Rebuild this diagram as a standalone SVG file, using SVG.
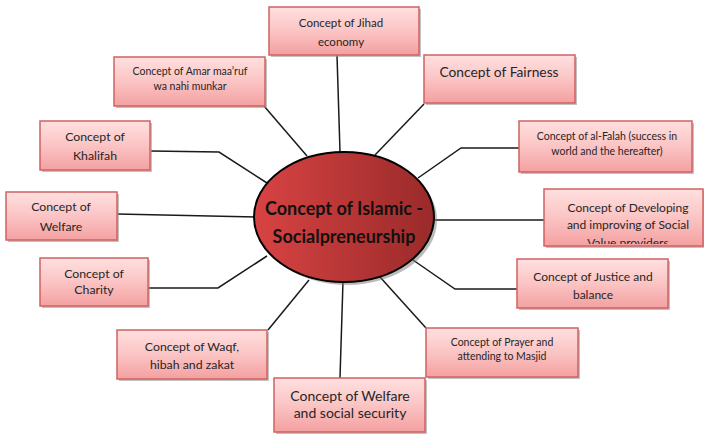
<svg xmlns="http://www.w3.org/2000/svg" width="704" height="435" viewBox="0 0 704 435">
<defs>
<linearGradient id="boxg" x1="0" y1="0" x2="0" y2="1">
<stop offset="0" stop-color="#FFE0E0"/>
<stop offset="0.5" stop-color="#FBC4C4"/>
<stop offset="1" stop-color="#F4A0A0"/>
</linearGradient>
<linearGradient id="ellg" x1="0" y1="0" x2="1" y2="0">
<stop offset="0" stop-color="#D84343"/>
<stop offset="1" stop-color="#9A2A2A"/>
</linearGradient>
<clipPath id="devclip"><rect x="544" y="189" width="160" height="55"/></clipPath>
</defs>
<style>
.box{fill:url(#boxg);stroke:#D06262;stroke-width:1.5}
.sh{fill:#9a9a9a;opacity:0.6}
.t{font-family:Lato,"Open Sans","Liberation Sans",sans-serif;fill:#262626;text-anchor:middle}
.c{fill:none;stroke:#1a1a1a;stroke-width:1.5}
</style>
<rect width="704" height="435" fill="#ffffff"/>
<g id="connectors">
<polyline class="c" points="337,55 340,152"/>
<polyline class="c" points="264,106 307,156"/>
<polyline class="c" points="151,151 219,152 267,183"/>
<polyline class="c" points="117,214 256,217"/>
<polyline class="c" points="148,288 218,288 267,256"/>
<polyline class="c" points="268,330 309,280"/>
<polyline class="c" points="340,378 343,281"/>
<polyline class="c" points="426,328 380,277"/>
<polyline class="c" points="517,289 455,289 413,260"/>
<polyline class="c" points="434,220 544,220"/>
<polyline class="c" points="519,148 461,148 418,178"/>
<polyline class="c" points="424,104 375,155"/>
</g>
<g id="center">
<ellipse cx="347" cy="220" rx="90" ry="65" fill="#777" opacity="0.5"/>
<ellipse cx="344" cy="217" rx="90" ry="65" fill="url(#ellg)" stroke="#000" stroke-width="2"/>
<text class="t" x="344" y="215" font-size="18" font-weight="bold" style="fill:#111">Concept of Islamic -</text>
<text class="t" x="344" y="243" font-size="18" font-weight="bold" style="fill:#111">Socialpreneurship</text>
</g>
<g id="jihad">
<rect class="sh" x="271" y="9" width="150" height="48"/>
<rect class="box" x="269" y="7" width="150" height="48"/>
<text class="t" x="341" y="27" font-size="11.5">Concept of Jihad</text>
<text class="t" x="341" y="46" font-size="11.5">economy</text>
</g>
<g id="amar">
<rect class="sh" x="116" y="59" width="151" height="49"/>
<rect class="box" x="114" y="57" width="151" height="49"/>
<text class="t" x="190" y="75" font-size="10.5">Concept of Amar maa’ruf</text>
<text class="t" x="190" y="90" font-size="10.5">wa nahi munkar</text>
</g>
<g id="fairness">
<rect class="sh" x="426" y="57" width="151" height="48"/>
<rect class="box" x="424" y="55" width="151" height="48"/>
<text class="t" x="499" y="77" font-size="13.8">Concept of Fairness</text>
</g>
<g id="khalifah">
<rect class="sh" x="42" y="123" width="110" height="49"/>
<rect class="box" x="40" y="121" width="110" height="49"/>
<text class="t" x="95" y="141" font-size="12.3">Concept of</text>
<text class="t" x="95" y="160" font-size="12.3">Khalifah</text>
</g>
<g id="falah">
<rect class="sh" x="521" y="123" width="173" height="51"/>
<rect class="box" x="519" y="121" width="173" height="51"/>
<text class="t" x="607" y="140" font-size="10.5">Concept of al-Falah (success in</text>
<text class="t" x="607" y="155" font-size="10.5">world and the hereafter)</text>
</g>
<g id="welfare">
<rect class="sh" x="8" y="194" width="111" height="48"/>
<rect class="box" x="6" y="192" width="111" height="48"/>
<text class="t" x="61" y="211" font-size="12.3">Concept of</text>
<text class="t" x="61" y="231" font-size="12.3">Welfare</text>
</g>
<g id="developing">
<rect class="sh" x="546" y="191" width="160" height="57"/>
<rect class="box" x="544" y="189" width="159" height="57"/>
<g clip-path="url(#devclip)">
<text class="t" x="628" y="212" font-size="12">Concept of Developing</text>
<text class="t" x="628" y="229" font-size="12">and improving of  Social</text>
<text class="t" x="628" y="247" font-size="12">Value providers</text>
</g>
</g>
<g id="charity">
<rect class="sh" x="42" y="260" width="108" height="48"/>
<rect class="box" x="40" y="258" width="108" height="48"/>
<text class="t" x="94" y="278" font-size="12.3">Concept of</text>
<text class="t" x="94" y="294" font-size="12.3">Charity</text>
</g>
<g id="justice">
<rect class="sh" x="519" y="261" width="151" height="49"/>
<rect class="box" x="517" y="259" width="151" height="49"/>
<text class="t" x="593" y="281" font-size="12">Concept of Justice and</text>
<text class="t" x="593" y="299" font-size="12">balance</text>
</g>
<g id="waqf">
<rect class="sh" x="119" y="332" width="150" height="49"/>
<rect class="box" x="117" y="330" width="150" height="49"/>
<text class="t" x="192" y="351" font-size="12.3">Concept of Waqf,</text>
<text class="t" x="192" y="369" font-size="12.3">hibah and zakat</text>
</g>
<g id="prayer">
<rect class="sh" x="428" y="330" width="152" height="49"/>
<rect class="box" x="426" y="328" width="152" height="49"/>
<text class="t" x="502" y="346" font-size="10.5">Concept of Prayer and</text>
<text class="t" x="502" y="360" font-size="10.5">attending to Masjid</text>
</g>
<g id="welfaresecurity">
<rect class="sh" x="276" y="380" width="151" height="54"/>
<rect class="box" x="274" y="378" width="151" height="54"/>
<text class="t" x="350" y="401" font-size="14">Concept of Welfare</text>
<text class="t" x="350" y="418" font-size="14">and social security</text>
</g>
</svg>
